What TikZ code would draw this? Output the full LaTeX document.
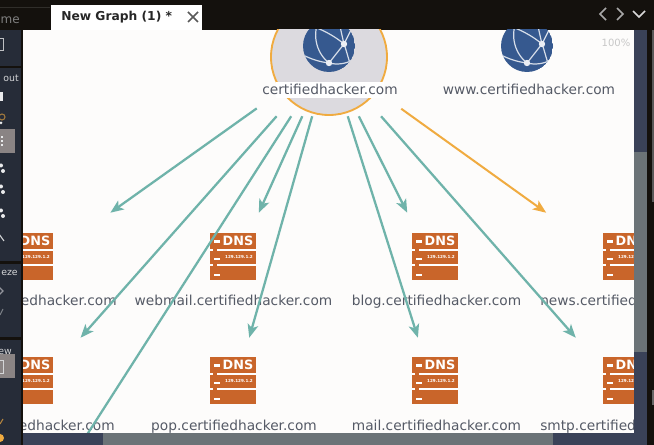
\documentclass[tikz,border=0pt]{standalone}
\usepackage{fontspec}
\setmainfont{DejaVu Sans}
\usetikzlibrary{arrows.meta}
\definecolor{barblack}{HTML}{14110D}
\definecolor{panel}{HTML}{262C38}
\definecolor{slate}{HTML}{3A4258}
\definecolor{thumb}{HTML}{6B7377}
\definecolor{hilite}{HTML}{8A8484}
\definecolor{canvasw}{HTML}{FDFCFB}
\definecolor{teal}{HTML}{6FB3AA}
\definecolor{amber}{HTML}{F0AB40}
\definecolor{dnsor}{HTML}{C9652A}
\definecolor{globeb}{HTML}{36598F}
\definecolor{labelc}{HTML}{555A66}
\definecolor{chevron}{HTML}{A8A8A8}
\definecolor{rootfill}{HTML}{DCDADF}
\tikzset{
  x=0.75pt,y=-0.75pt,
  entitylabel/.style={inner sep=0pt,anchor=base,text=labelc,font=\fontsize{10.3}{12}\selectfont},
  targetbox/.style={rectangle,inner sep=0pt,minimum width=135pt,minimum height=85.5pt},
  sourcebox/.style={rectangle,inner sep=0pt,minimum width=108pt,minimum height=88.5pt},
  tealedge/.style={draw=teal,line width=1.7pt,-{Stealth[length=10pt,width=8pt,inset=2.5pt]}},
  amberedge/.style={draw=amber,line width=1.5pt,-{Stealth[length=10pt,width=8pt,inset=2.5pt]}},
  sidetext/.style={inner sep=0pt,text=white!80!panel,font=\fontsize{7}{8}\selectfont},
  sideicon/.style={fill=white!90!panel},
  chev/.style={draw=chevron,line width=1.1pt}
}
\newcommand{\dnsicon}[3]{%
  \begin{scope}[shift={(#2,#3)}]
    \fill[dnsor] (0,0) rectangle (46,47);
    \fill[white] (4,7) rectangle (10,10);
    \fill[white] (0,16) rectangle (3,18);
    \fill[white] (7,16) rectangle (46,18);
    \fill[white] (4,25) rectangle (10,27);
    \fill[white] (0,31) rectangle (3,33);
    \fill[white] (7,31) rectangle (46,33);
    \fill[white] (4,41) rectangle (10,43);
    \node[inner sep=0pt,text=white,font=\fontsize{9.6}{10}\selectfont\bfseries] (dns#1) at (28,7.5) {DNS};
    \node[inner sep=0pt,text=white,font=\fontsize{3.1}{4}\selectfont\bfseries] (ip#1) at (29,23.5) {129.129.1.2};
  \end{scope}}
\newcommand{\globeicon}[2]{%
  \begin{scope}[shift={(#1,#2)}]
    \begin{scope}
      \clip (0,0) circle (26);
      \fill[globeb] (0,0) circle (26);
      \draw[white!80!globeb,line width=0.9pt]
        (0,17) .. controls (-14,6) and (-17,-14) .. (-9,-28)
        (0,17) -- (15,-2)
        (-12,-18) .. controls (-2,-14) and (8,-8) .. (15,-2)
        (15,-2) .. controls (13,-10) and (12,-16) .. (9,-28)
        (15,-2) -- (24,-20)
        (15,-2) .. controls (18,6) and (19,12) .. (22,20)
        (-26,9) .. controls (-16,14) and (-8,16) .. (0,17)
        (0,17) .. controls (8,19) and (16,18) .. (24,14);
      \fill[white!90!globeb] (0,17) circle (3.2) (15,-2) circle (3.2);
    \end{scope}
  \end{scope}}
\begin{document}
\begin{tikzpicture}
\useasboundingbox (0,0) rectangle (654,445);
\fill[barblack] (0,0) rectangle (654,445);
\fill[canvasw] (23,30) rectangle (634,433);

\begin{scope}
  \clip (23,30) rectangle (634,433);
  % layout boxes that the edges start from and end on
  \node[sourcebox] (root) at (329,57) {};
  \node[targetbox] (t1) at (30,270) {};
  \node[targetbox] (t2) at (233,270) {};
  \node[targetbox] (t3) at (436,270) {};
  \node[targetbox] (t4) at (626,270) {};
  \node[targetbox] (t5) at (30,395) {};
  \node[targetbox] (t6) at (233,395) {};
  \node[targetbox] (t7) at (436,395) {};
  \node[targetbox] (t8) at (626,395) {};
  \coordinate (offpage) at (40,508);

  % root entity
  \fill[draw=amber,line width=1.4pt,fill=rootfill] (329,57) circle (58);
  \globeicon{329}{46}
  \fill[white] (276,82) rectangle (384,98);
  \node[entitylabel] (rootlabel) at (330,95) {certifiedhacker.com};
  \globeicon{527}{46}
  \node[entitylabel] (wwwlabel) at (529,95) {www.certifiedhacker.com};
  \node[inner sep=0pt,text=black!22,font=\fontsize{7.5}{8}\selectfont] (zoomlabel) at (616,43) {100\%};

  % DNS entities
  \dnsicon{a}{7}{233}
  \dnsicon{b}{210}{233}
  \dnsicon{c}{412}{233}
  \dnsicon{d}{603}{233}
  \dnsicon{e}{7}{357}
  \dnsicon{f}{210}{357}
  \dnsicon{g}{412}{357}
  \dnsicon{h}{603}{357}
  \node[entitylabel,anchor=base east] (la) at (117,306) {edhacker.com};
  \node[entitylabel] (lb) at (233.5,306) {webmail.certifiedhacker.com};
  \node[entitylabel] (lc) at (436.5,306) {blog.certifiedhacker.com};
  \node[entitylabel,anchor=base west] (ld) at (540,306) {news.certified};
  \node[entitylabel,anchor=base east] (le) at (115,431) {edhacker.com};
  \node[entitylabel] (lf) at (234,431) {pop.certifiedhacker.com};
  \node[entitylabel] (lg) at (436.5,431) {mail.certifiedhacker.com};
  \node[entitylabel,anchor=base west] (lh) at (540,431) {smtp.certified};

  % edges
  \draw[tealedge] (root) -- (t1);
  \draw[tealedge] (root) -- (t2);
  \draw[tealedge] (root) -- (t3);
  \draw[amberedge] (root) -- (t4);
  \draw[tealedge] (root) -- (t5);
  \draw[tealedge] (root) -- (t6);
  \draw[tealedge] (root) -- (t7);
  \draw[tealedge] (root) -- (t8);
  \draw[draw=teal,line width=1.7pt] (root) -- (offpage);
\end{scope}

% scroll bars
\fill[slate] (634,30) rectangle (647,433);
\fill[thumb] (634,152) rectangle (647,352);
\fill[slate] (23,433) rectangle (647,445);
\fill[thumb] (103,433) rectangle (553,445);
\fill[black!65] (652,30) rectangle (654,202);
\fill[black!60] (652,390) rectangle (654,405);

% tabs
\fill[white!12!barblack] (0,7) rectangle (50,8);
\node[inner sep=0pt,anchor=east,text=black!50,font=\fontsize{9}{11}\selectfont] (oldtab) at (20,20) {me};
\fill[white] (51,5) rectangle (202,30);
\node[inner sep=0pt,anchor=west,text=black!85,font=\fontsize{9.2}{11}\selectfont\bfseries] (newtab) at (61,17) {New Graph (1) *};
\draw[black!65,line width=1.1pt] (188,12) -- (198,22) (188,22) -- (198,12);
\draw[chev] (606,8) -- (600,14) -- (606,20);
\draw[chev] (617,8) -- (623,14) -- (617,20);
\draw[white!85!black,line width=1.1pt] (633,11) -- (639,17) -- (645,11);

% left panel
\fill[panel] (0,30) rectangle (21,66);
\fill[panel] (0,68) rectangle (21,261);
\fill[panel] (0,264) rectangle (21,337);
\fill[panel] (0,340) rectangle (21,445);
\fill[hilite] (0,129) rectangle (15,153);
\fill[hilite] (0,354) rectangle (15,378);
\draw[white!70!panel,line width=0.7pt] (-2,38) rectangle (3,50);
\draw[white!80!panel,line width=0.7pt] (-2,360) rectangle (3,373);
\node[sidetext,anchor=east] (s1) at (19,78) {out};
\node[sidetext,anchor=east] (s2) at (18,273) {eze};
\node[sidetext,anchor=east] (s3) at (12,352) {ew};
\fill[sideicon] (0,92) rectangle (3,101);
\draw[amber!60!panel,line width=0.8pt] (2,117) circle (3);
\fill[sideicon] (1,123) circle (1.5);
\foreach \yy in {137,141,145} {\fill[sideicon] (1,\yy-1) rectangle (3,\yy+1);}
\foreach \yy in {168,189,213} {\fill[sideicon] (1,\yy-2.5) circle (2) (3,\yy+3) circle (2);}
\draw[white!80!panel,line width=0.8pt] (-1,234) -- (4,241);
\draw[white!50!panel,line width=0.8pt] (-1,287) -- (3,291) -- (-1,295);
\draw[white!40!panel,line width=0.8pt] (0,315) -- (3,309);
\draw[amber!70!panel,line width=0.8pt] (0,424) -- (3,419);
\fill[amber] (0,438) circle (4);
\end{tikzpicture}
\end{document}
